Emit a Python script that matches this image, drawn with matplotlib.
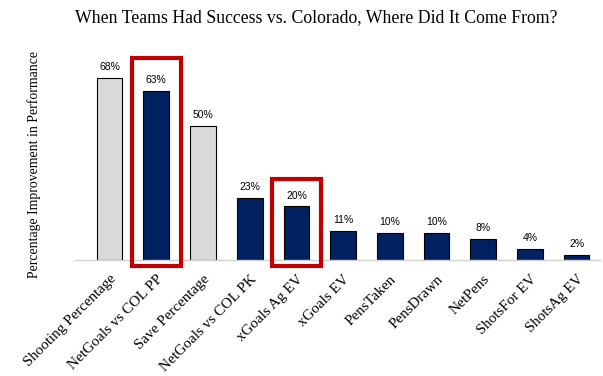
import matplotlib
matplotlib.use("Agg")
import matplotlib.pyplot as plt
from matplotlib.patches import Rectangle

# data ==========================================================================
categories = ["Shooting Percentage", "NetGoals vs COL PP", "Save Percentage",
              "NetGoals vs COL PK", "xGoals Ag EV", "xGoals EV", "PensTaken",
              "PensDrawn", "NetPens", "ShotsFor EV", "ShotsAg EV"]
values = [68, 63, 50, 23, 20, 11, 10, 10, 8, 4, 2]
grey_bars = ["Shooting Percentage", "Save Percentage"]
boxed = ["NetGoals vs COL PP", "xGoals Ag EV"]

navy = "#002060"
grey = "#D9D9D9"
red = "#C00000"

plt.rcParams['font.family'] = ['Liberation Serif', 'DejaVu Serif']

fig = plt.figure(figsize=(6.03, 3.76), dpi=100)
ax = fig.add_axes([75 / 603, (376 - 260) / 376, 525 / 603, 209 / 376])

x = list(range(len(categories)))
colors = [grey if c in grey_bars else navy for c in categories]
ax.bar(x, values, width=0.55, color=colors, edgecolor="black", linewidth=0.8, zorder=2)

for xi, v in zip(x, values):
    ax.text(xi, v + 2.2, f"{v}%", ha="center", va="bottom", fontsize=7.5,
            family=['Liberation Sans', 'DejaVu Sans'])

for c in boxed:
    i = categories.index(c)
    v = values[i]
    top = v + 12.5 if v > 50 else v + 10.2
    r = Rectangle((i - 0.53, -2.2), 1.06, top + 2.2, fill=False, edgecolor=red,
                  linewidth=3, clip_on=False, zorder=3)
    ax.add_patch(r)

ax.set_xlim(-0.74, 10.5)
ax.set_ylim(0, 78)
ax.set_xticks(x)
ax.set_xticklabels(categories, rotation=45, ha="right", rotation_mode="anchor", fontsize=10.8)
ax.tick_params(axis="x", length=0, pad=9)
ax.set_yticks([])
for s in ["top", "right", "left"]:
    ax.spines[s].set_visible(False)
ax.spines["bottom"].set_color("#D0D0D0")
ax.spines["bottom"].set_linewidth(1)

fig.text(34 / 603, 1 - 165 / 376, "Percentage Improvement in Performance", rotation=90,
         ha="center", va="center", fontsize=9.9)
fig.text(316 / 603, 1 - 18 / 376, "When Teams Had Success vs. Colorado, Where Did It Come From?",
         ha="center", va="center", fontsize=12.8)

fig.savefig("out.png", dpi=100)
